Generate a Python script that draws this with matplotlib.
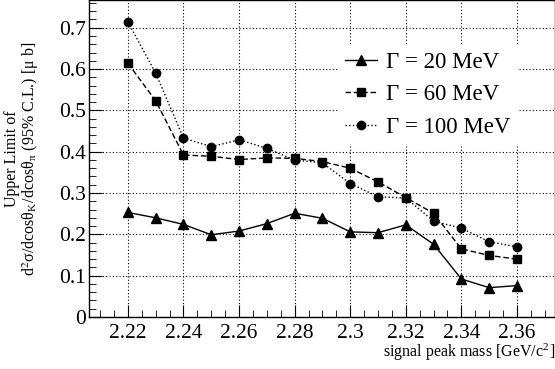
import matplotlib
matplotlib.use("Agg")
import matplotlib.pyplot as plt
from matplotlib.ticker import MultipleLocator

plt.rcParams["font.family"] = ["Liberation Serif", "DejaVu Serif"]
plt.rcParams["mathtext.fontset"] = "stix"

# signal peak mass [GeV/c^2]
mass = [2.22, 2.23, 2.24, 2.25, 2.26, 2.27, 2.28, 2.29, 2.30, 2.31, 2.32, 2.33, 2.34, 2.35, 2.36]
# upper limits [mu b]
ul_20 = [0.253, 0.240, 0.224, 0.199, 0.208, 0.226, 0.251, 0.239, 0.206, 0.204, 0.223, 0.176, 0.092, 0.071, 0.076]
ul_60 = [0.614, 0.523, 0.392, 0.389, 0.381, 0.385, 0.384, 0.376, 0.360, 0.327, 0.289, 0.251, 0.165, 0.149, 0.140]
ul_100 = [0.714, 0.590, 0.433, 0.412, 0.429, 0.408, 0.380, 0.373, 0.323, 0.291, 0.288, 0.232, 0.215, 0.182, 0.170]

fig = plt.figure(figsize=(5.55, 3.69), dpi=100)
ax = fig.add_axes([0.1604, 0.1409, 0.8396, 0.859])

ax.plot(mass, ul_20, "k-", marker="^", ms=6.5, lw=1.0, label="Γ = 20 MeV")
ax.plot(mass, ul_60, "k--", marker="s", ms=6, lw=1.0, dashes=(4, 2), label="Γ = 60 MeV")
ax.plot(mass, ul_100, "k:", marker="o", ms=6, lw=1.0, label="Γ = 100 MeV")

ax.set_xlim(2.206, 2.3737)
ax.set_ylim(0, 0.767)
ax.xaxis.set_minor_locator(MultipleLocator(0.005))
ax.yaxis.set_minor_locator(MultipleLocator(0.02))
ax.set_xticks([2.22, 2.24, 2.26, 2.28, 2.30, 2.32, 2.34, 2.36])
ax.set_xticklabels(["2.22", "2.24", "2.26", "2.28", "2.3", "2.32", "2.34", "2.36"])
ax.set_yticks([0, 0.1, 0.2, 0.3, 0.4, 0.5, 0.6, 0.7])
ax.set_yticklabels(["0", "0.1", "0.2", "0.3", "0.4", "0.5", "0.6", "0.7"])
ax.tick_params(which="both", direction="in", labelsize=15.5, top=False, right=False)
ax.tick_params(which="major", length=9)
ax.tick_params(axis="x", which="major", pad=5)
ax.tick_params(axis="y", which="major", pad=2)
ax.tick_params(which="minor", length=5)
ax.grid(True, which="major", color="black", linestyle=(0, (1, 2)), lw=0.8)
for s in ax.spines.values():
    s.set_linewidth(1.0)

leg = ax.legend(loc="upper left", bbox_to_anchor=(0.51, 0.895), frameon=True, fontsize=16.5,
                handlelength=1.4, labelspacing=0.5, borderpad=0.3, handletextpad=0.4)
leg.get_frame().set_edgecolor("white")
leg.get_frame().set_facecolor("white")
leg.get_frame().set_alpha(1.0)
leg.get_frame().set_boxstyle("square", pad=0)

ax.set_ylabel("Upper Limit of\n" + r"d$^{2}$σ/dcosθ$_{\mathregular{K}}$/dcosθ$_{\mathregular{π}}$ (95% C.L.) [μ b]",
              fontsize=11.5, linespacing=1.05)
ax.yaxis.set_label_coords(-0.103, 0.5)
ax.set_xlabel(r"signal peak mass [GeV/c$^{\mathregular{2}}$]", fontsize=11.5)
ax.xaxis.set_label_coords(1.0, -0.11)
ax.xaxis.label.set_horizontalalignment("right")
ax.xaxis.label.set_verticalalignment("center")

fig.savefig("out.png", dpi=100)
